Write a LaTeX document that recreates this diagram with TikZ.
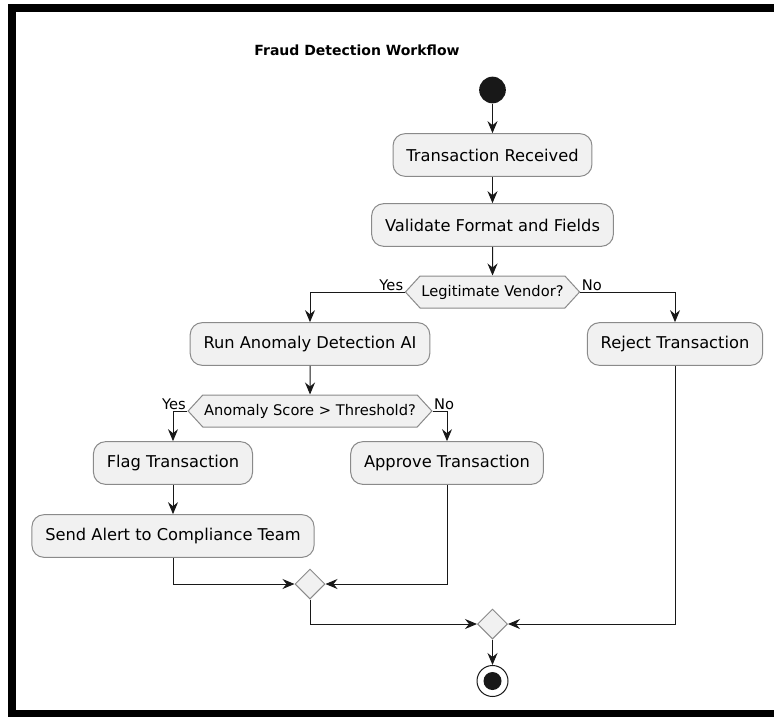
\documentclass[tikz,border=0pt]{standalone}
\usepackage{fontspec}
\setmainfont{DejaVu Sans}
\usetikzlibrary{shapes.geometric,shapes.symbols,arrows.meta}

\definecolor{boxfill}{HTML}{F1F1F1}
\definecolor{boxline}{HTML}{8A8A8A}
\definecolor{flowline}{HTML}{181818}

\tikzset{
  action/.style={draw=boxline, fill=boxfill, line width=0.75pt,
    rounded corners=9pt, minimum height=32pt, inner xsep=10pt,
    font=\fontsize{12.2}{14}\selectfont},
  choice/.style={draw=boxline, fill=boxfill, line width=0.75pt,
    signal, signal to=east and west, signal pointer angle=95,
    minimum height=24pt, inner xsep=1pt,
    font=\fontsize{11}{13}\selectfont},
  merge/.style={draw=boxline, fill=boxfill, line width=0.75pt,
    diamond, minimum width=22.5pt, minimum height=22.5pt, inner sep=0pt},
  flow/.style={draw=flowline, line width=0.75pt,
    -{Stealth[length=9pt,width=7.5pt,inset=3pt]}},
  guard/.style={font=\fontsize{11}{13}\selectfont, inner sep=1pt}
}

\begin{document}
\begin{tikzpicture}[x=0.75pt,y=-0.75pt]
  \useasboundingbox (0,0) rectangle (774,717);

  % frame
  \fill[black] (8,4) rectangle (774,12);
  \fill[black] (8,4) rectangle (16,717);
  \fill[black] (8,710) rectangle (774,717);

  \node[font=\fontsize{10.5}{12}\selectfont\bfseries] (title) at (357,50) {Fraud Detection Workflow};

  \node[circle, fill=flowline, minimum size=20pt, inner sep=0pt] (start) at (492.5,90) {};
  \node[action] (recv) at (492.5,155) {Transaction Received};
  \node[action] (valid) at (492.5,225) {Validate Format and Fields};
  \node[choice] (vendor) at (492.5,292) {Legitimate Vendor?};
  \node[action] (anomaly) at (310,344) {Run Anomaly Detection AI};
  \node[action] (reject) at (675,344) {Reject Transaction};
  \node[choice] (score) at (310,411) {Anomaly Score > Threshold?};
  \node[action] (flag) at (173,463) {Flag Transaction};
  \node[action] (approve) at (447,463) {Approve Transaction};
  \node[action] (alert) at (173,536) {Send Alert to Compliance Team};
  \node[merge] (merge1) at (310,584) {};
  \node[merge] (merge2) at (492.5,624) {};
  \node[circle, draw=flowline, fill=white, line width=0.75pt, minimum size=23.25pt, inner sep=0pt] (stop) at (492.5,681) {};
  \fill[flowline] (stop) circle [radius=6.75pt];

  \node[guard, anchor=south east] (vyes) at (vendor.west) {Yes};
  \node[guard, anchor=south west] (vno) at (vendor.east) {No};
  \node[guard, anchor=south east] (syes) at (score.west) {Yes};
  \node[guard, anchor=south west] (sno) at (score.east) {No};

  \draw[flow] (start) -- (recv);
  \draw[flow] (recv) -- (valid);
  \draw[flow] (valid) -- (vendor);
  \draw[flow] (vendor.west) -| (anomaly);
  \draw[flow] (vendor.east) -| (reject);
  \draw[flow] (anomaly) -- (score);
  \draw[flow] (score.west) -| (flag);
  \draw[flow] (score.east) -| (approve);
  \draw[flow] (flag) -- (alert);
  \draw[flow] (alert) |- (merge1);
  \draw[flow] (approve) |- (merge1);
  \draw[flow] (merge1) |- (merge2);
  \draw[flow] (reject) |- (merge2);
  \draw[flow] (merge2) -- (stop);
\end{tikzpicture}
\end{document}
